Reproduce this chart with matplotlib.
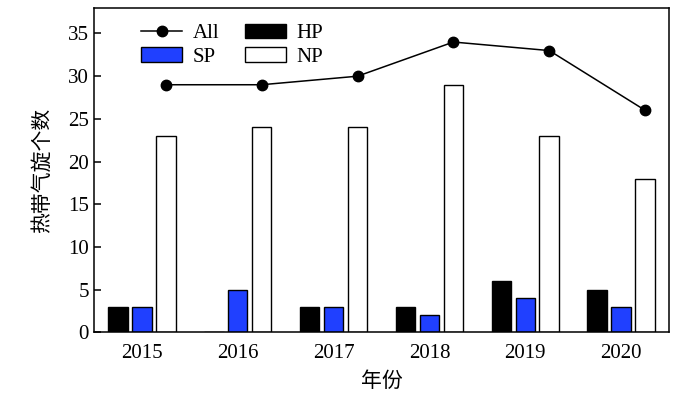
import matplotlib
matplotlib.use("Agg")
import matplotlib.pyplot as plt
import numpy as np

plt.rcParams['font.family'] = ['Liberation Serif', 'Noto Sans CJK SC']
plt.rcParams['font.size'] = 15

years = ['2015', '2016', '2017', '2018', '2019', '2020']
all_tc = [29, 29, 30, 34, 33, 26]
hp = [3, 0, 3, 3, 6, 5]
sp = [3, 5, 3, 2, 4, 3]
np_ = [23, 24, 24, 29, 23, 18]

x = np.arange(len(years))
w = 0.205
off = 0.25

fig = plt.figure(figsize=(7, 3.93), dpi=100)
ax = fig.add_axes([0.134, 0.154, 0.822, 0.826])

b_hp = ax.bar(x - off, hp, width=w, color='black', edgecolor='black', linewidth=1.0, label='HP')
b_sp = ax.bar(x, sp, width=w, color='#2040ff', edgecolor='black', linewidth=1.0, label='SP')
b_np = ax.bar(x + off, np_, width=w, color='white', edgecolor='black', linewidth=1.0, label='NP')
l_all, = ax.plot(x + off, all_tc, color='black', marker='o', markersize=7.5, linewidth=1.1, label='All')

ax.set_xlim(-0.5, 5.5)
ax.set_ylim(0, 38)
ax.set_yticks(np.arange(0, 36, 5))
ax.set_xticks(x)
ax.set_xticklabels(years)
ax.tick_params(axis='y', direction='in', length=5, width=1.1)
ax.tick_params(axis='x', length=0, pad=8)
for s in ax.spines.values():
    s.set_linewidth(1.1)

ax.set_xlabel('年份', labelpad=7)
ax.set_ylabel('热带气旋个数', labelpad=11)

ax.legend([l_all, b_sp, b_hp, b_np], ['All', 'SP', 'HP', 'NP'], ncol=2, frameon=False,
          loc='upper left', bbox_to_anchor=(0.06, 0.99), handlelength=2.0,
          handletextpad=0.5, columnspacing=1.2, labelspacing=0.2, borderaxespad=0.2)

plt.savefig('out.png', dpi=100)
plt.close()
